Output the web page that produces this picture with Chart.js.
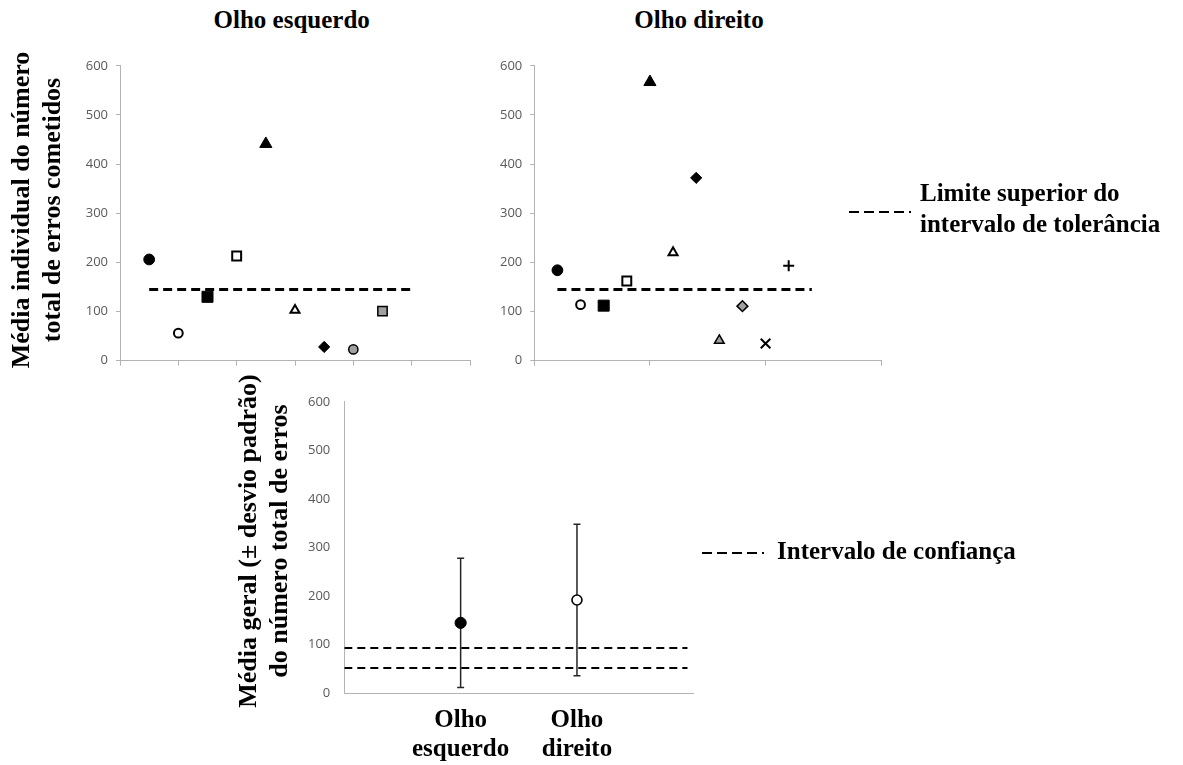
<!DOCTYPE html>
<html><head><meta charset="utf-8">
<script src="https://cdn.jsdelivr.net/npm/chart.js@4.4.0/dist/chart.umd.min.js"></script>
<style>
html,body{margin:0;padding:0;background:#fff;width:1183px;height:765px;overflow:hidden;position:relative;}
canvas{position:absolute;}
.t{position:absolute;font-family:"Liberation Serif","Times New Roman",serif;font-weight:bold;color:#000;white-space:nowrap;}
.ttl{font-size:25px;line-height:25px;width:300px;text-align:center;}
.yt{font-size:26px;line-height:31px;width:420px;height:62px;text-align:center;transform:rotate(-90deg);transform-origin:50% 50%;}
.lg{font-size:25px;line-height:31px;}
svg{position:absolute;overflow:visible;}
</style></head><body>
<canvas id="cLeft" width="420" height="330" style="left:60px;top:50px"></canvas>
<canvas id="cRight" width="400" height="330" style="left:490px;top:50px"></canvas>
<canvas id="cMean" width="420" height="385" style="left:290px;top:380px"></canvas>

<div class="t ttl" style="left:141.7px;top:7.4px">Olho esquerdo</div>
<div class="t ttl" style="left:549px;top:7.4px">Olho direito</div>
<div class="t yt" style="left:-174.3px;top:179px">Média individual do número<br>total de erros cometidos</div>
<div class="t yt" style="left:52.7px;top:510px">Média geral (± desvio padrão)<br>do número total de erros</div>

<svg style="left:849px;top:211.7px" width="62" height="2"><line x1="0" y1="0" x2="62" y2="0" stroke="#000" stroke-width="2" stroke-dasharray="10 5"/></svg>
<div class="t lg" style="left:920px;top:176.8px">Limite superior do<br>intervalo de tolerância</div>
<svg style="left:702px;top:553.3px" width="62" height="2"><line x1="0" y1="0" x2="62" y2="0" stroke="#000" stroke-width="2" stroke-dasharray="10 5"/></svg>
<div class="t lg" style="left:777px;top:535.1px">Intervalo de confiança</div>

<script>
// ---- data ----
const leftSubjects  = [1, 2, 3, 4, 5, 6, 7, 8, 9];
const leftErrors    = [206, 56, 130, 213, 441, 103, 28, 23, 101];
const leftMarkers   = ['fc','oc','fs','os','ft','ot','fd','gc','gs'];

const rightSubjects = [1, 2, 3, 4, 5, 6, 7, 8, 9, 10, 11];
const rightErrors   = [184, 114, 112, 162, 567, 220, 372, 41, 111, 35, 193];
const rightMarkers  = ['fc','oc','fs','os','ft','ot','fd','gt','gd','x','p'];

const toleranceLimit = 145;
const leftLimitSpan  = [1, 10];
const rightLimitSpan = [1, 12];

const eyePositions = [1, 2];
const eyeLabels    = [['Olho','esquerdo'], ['Olho','direito']];
const eyeMeans     = [145, 192];
const eyeSD        = [133, 156];
const confidenceBounds = [93, 52];
const confidenceSpan   = [0, 2.95];

const yMin = 0, yMax = 600, yStep = 100;

// ---- styles ----
const AX = '#b3b3b3';
const TICK = '#595959';
const GRAY = '#a0a0a0';
const M = {
  fc:{s:'circle',  bg:'#000', r:5.4, bw:1},
  oc:{s:'circle',  bg:'#fff', r:4.4, bw:2},
  fs:{s:'rect',    bg:'#000', r:7.8, bw:1},
  os:{s:'rect',    bg:'#fff', r:6.3, bw:2},
  ft:{s:'triangle',bg:'#000', r:7,   bw:1},
  ot:{s:'triangle',bg:'#fff', r:5.2, bw:2},
  fd:{s:'rectRot', bg:'#000', r:5.6, bw:1},
  gc:{s:'circle',  bg:GRAY,  r:4.6, bw:1.5},
  gs:{s:'rect',    bg:GRAY,  r:6.6, bw:1.5},
  gt:{s:'triangle',bg:GRAY,  r:5.6, bw:1.5},
  gd:{s:'rectRot', bg:GRAY,  r:5.4, bw:1.5},
  x: {s:'crossRot',bg:'#000', r:6.8, bw:2},
  p: {s:'cross',   bg:'#000', r:5.5, bw:2}
};

const tickFont = {family:'"Open Sans", "Liberation Sans", sans-serif', size:13};

function yScale(width, tickLen, pad){
  return {
    min:yMin, max:yMax,
    ticks:{stepSize:yStep, color:TICK, font:tickFont, padding:pad},
    grid:{drawOnChartArea:false, drawTicks:tickLen>0, tickLength:tickLen, color:AX},
    border:{color:AX, width:1},
    afterFit: s => { s.width = width; }
  };
}

function topChart(id, xs, ys, markers, span, xMax, xStep, yWidth, padRight){
  return new Chart(document.getElementById(id), {
    type:'scatter',
    data:{datasets:[
      {
        data: xs.map((x,i)=>({x:x, y:ys[i]})),
        pointStyle: markers.map(m=>M[m].s),
        pointBackgroundColor: markers.map(m=>M[m].bg),
        pointBorderColor: '#000',
        pointRadius: markers.map(m=>M[m].r),
        pointHoverRadius: markers.map(m=>M[m].r),
        pointBorderWidth: markers.map(m=>M[m].bw),
        showLine:false, clip:false
      },
      {
        data: span.map(x=>({x:x, y:toleranceLimit})),
        showLine:true, borderColor:'#000', borderWidth:3, borderDash:[9,5],
        pointRadius:0, fill:false
      }
    ]},
    options:{
      responsive:false, animation:false, devicePixelRatio:1,
      layout:{padding:{top:12.7, right:padRight, bottom:0, left:0}},
      plugins:{legend:{display:false}, tooltip:{enabled:false}},
      scales:{
        x:{type:'linear', min:0, max:xMax,
           ticks:{stepSize:xStep, display:false},
           grid:{drawOnChartArea:false, drawTicks:true, tickLength:5, color:AX},
           border:{color:AX, width:1},
           afterFit: s => { s.height = 19.3; }},
        y: yScale(yWidth, 4, 8)
      }
    }
  });
}

topChart('cLeft',  leftSubjects,  leftErrors,  leftMarkers,  leftLimitSpan,  12, 2, 60, 10);
topChart('cRight', rightSubjects, rightErrors, rightMarkers, rightLimitSpan, 15, 5, 44.3, 6.7);

const errorBars = {
  id:'errorBars',
  beforeDatasetsDraw(chart){
    const ctx = chart.ctx, xs = chart.scales.x, ys = chart.scales.y;
    ctx.save();
    ctx.strokeStyle = '#262626';
    ctx.lineWidth = 1.5;
    eyePositions.forEach((p,i)=>{
      const x = xs.getPixelForValue(p);
      const top = ys.getPixelForValue(eyeMeans[i] + eyeSD[i]);
      const bot = ys.getPixelForValue(eyeMeans[i] - eyeSD[i]);
      ctx.beginPath();
      ctx.moveTo(x, top); ctx.lineTo(x, bot);
      ctx.moveTo(x-3.5, top); ctx.lineTo(x+3.5, top);
      ctx.moveTo(x-3.5, bot); ctx.lineTo(x+3.5, bot);
      ctx.stroke();
    });
    ctx.restore();
  }
};

new Chart(document.getElementById('cMean'), {
  type:'scatter',
  data:{datasets:[
    {
      data: eyePositions.map((x,i)=>({x:x, y:eyeMeans[i]})),
      pointStyle:'circle',
      pointBackgroundColor:['#000','#fff'],
      pointBorderColor:'#000',
      pointRadius:[5.6, 5],
      pointHoverRadius:[5.6, 5],
      pointBorderWidth:[1, 1.6],
      showLine:false, clip:false
    },
    ...confidenceBounds.map(b=>({
      data: confidenceSpan.map(x=>({x:x, y:b})),
      showLine:true, borderColor:'#000', borderWidth:2, borderDash:[8,5],
      pointRadius:0, fill:false
    }))
  ]},
  options:{
    responsive:false, animation:false, devicePixelRatio:1,
    layout:{padding:{top:15, right:16.7, bottom:0, left:0}},
    plugins:{legend:{display:false}, tooltip:{enabled:false}},
    scales:{
      x:{type:'linear', min:0, max:3,
         ticks:{stepSize:1, autoSkip:false, maxRotation:0, padding:12, color:'#000',
                font:{family:'"Liberation Serif", "Times New Roman", serif', size:25, weight:'bold', lineHeight:1.19},
                callback: v => { const i = eyePositions.indexOf(v); return i >= 0 ? eyeLabels[i] : ''; }},
         grid:{drawOnChartArea:false, drawTicks:false, color:AX},
         border:{color:AX, width:1},
         afterFit: s => { s.height = 71.7; }},
      y: yScale(54.3, 0, 14)
    }
  },
  plugins:[errorBars]
});
</script>
</body></html>
